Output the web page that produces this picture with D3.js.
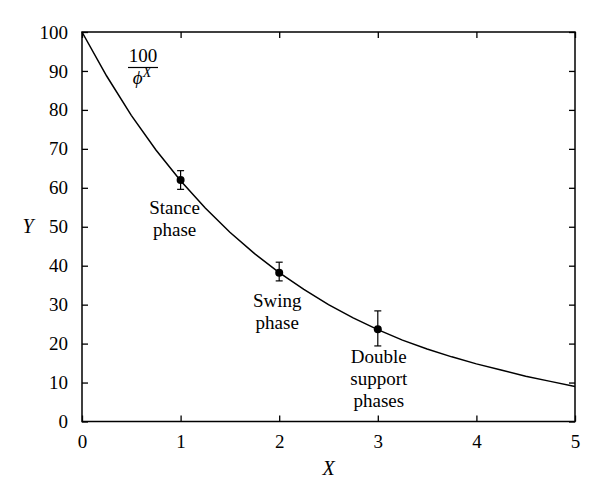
<!DOCTYPE html>
<meta charset="utf-8">
<script src="https://d3js.org/d3.v7.min.js"></script>
<style>
body { margin: 0; background: #fff; }
text { font-family: "Liberation Serif", "DejaVu Serif", serif; fill: #000; }
</style>
<div id="chart"></div>
<script>
// curve values (x, y)
var curveX = [0, 0.25, 0.5, 0.75, 1, 1.25, 1.5, 1.75, 2, 2.25, 2.5, 2.75, 3, 3.25, 3.5, 3.75, 4, 4.25, 4.5, 4.75, 5];
var curveY = [100, 88.7, 78.6, 69.7, 61.8, 54.8, 48.6, 43.1, 38.2, 33.9, 30.0, 26.6, 23.6, 20.9, 18.6, 16.6, 14.8, 13.2, 11.6, 10.3, 9.0];

// measured phases
var phaseX = [1, 2, 3];
var phaseY = [62, 38.2, 23.7];
var errLow = [59.6, 36.1, 19.4];
var errHigh = [64.4, 40.9, 28.4];
var phaseLabels = [["Stance", "phase"], ["Swing", "phase"], ["Double", "support", "phases"]];

var xTicks = [0, 1, 2, 3, 4, 5];
var yTicks = [0, 10, 20, 30, 40, 50, 60, 70, 80, 90, 100];

var width = 600, height = 502;
var margin = {top: 32, right: 25, bottom: 80.5, left: 82};

var svg = d3.select("#chart").append("svg")
  .attr("width", width)
  .attr("height", height);

var x = d3.scaleLinear().domain([0, 5]).range([margin.left, width - margin.right]);
var y = d3.scaleLinear().domain([0, 100]).range([height - margin.bottom, margin.top]);

// frame
svg.append("rect")
  .attr("x", x(0)).attr("y", y(100))
  .attr("width", x(5) - x(0)).attr("height", y(0) - y(100))
  .attr("fill", "none").attr("stroke", "#000").attr("stroke-width", 1.5);

// inward ticks on all four sides
function frameAxis(axis, tx, ty) {
  var g = svg.append("g").attr("transform", "translate(" + tx + "," + ty + ")").call(axis);
  g.select(".domain").remove();
  g.selectAll(".tick line").attr("stroke", "#000").attr("stroke-width", 1.3);
  g.selectAll("text").style("font-size", "19px").attr("font-family", null);
  return g;
}
frameAxis(d3.axisBottom(x).tickValues(xTicks).tickSize(-6).tickPadding(13).tickFormat(d3.format("d")), 0, y(0));
frameAxis(d3.axisTop(x).tickValues(xTicks).tickSize(-6).tickFormat(""), 0, y(100));
frameAxis(d3.axisLeft(y).tickValues(yTicks).tickSize(-6).tickPadding(14).tickFormat(d3.format("d")), x(0), 0);
frameAxis(d3.axisRight(y).tickValues(yTicks).tickSize(-6).tickFormat(""), x(5), 0);

// curve
var pts = curveX.map(function(d, i) { return [d, curveY[i]]; });
svg.append("path")
  .datum(pts)
  .attr("fill", "none")
  .attr("stroke", "#000")
  .attr("stroke-width", 1.5)
  .attr("d", d3.line().x(function(d) { return x(d[0]); }).y(function(d) { return y(d[1]); }));

// error bars + points
var labelShift = [-6, -2, 1];
phaseX.forEach(function(px, i) {
  var g = svg.append("g");
  g.append("line").attr("x1", x(px)).attr("x2", x(px))
    .attr("y1", y(errLow[i])).attr("y2", y(errHigh[i]))
    .attr("stroke", "#000").attr("stroke-width", 1.2);
  [errLow[i], errHigh[i]].forEach(function(v) {
    g.append("line").attr("x1", x(px) - 3.5).attr("x2", x(px) + 3.5)
      .attr("y1", y(v)).attr("y2", y(v))
      .attr("stroke", "#000").attr("stroke-width", 1.2);
  });
  g.append("circle").attr("cx", x(px)).attr("cy", y(phaseY[i])).attr("r", 4).attr("fill", "#000");

  var t = svg.append("text")
    .attr("text-anchor", "middle")
    .style("font-size", "19px")
    .attr("y", y(phaseY[i]) + 34);
  phaseLabels[i].forEach(function(s, j) {
    t.append("tspan").attr("x", x(px) + labelShift[i]).attr("dy", j == 0 ? 0 : 22).text(s);
  });
});

// formula label 100 / phi^X
var fx = 143;
svg.append("text").attr("x", fx).attr("y", 62).attr("text-anchor", "middle").style("font-size", "19px").text("100");
svg.append("line").attr("x1", fx - 15).attr("x2", fx + 15).attr("y1", 67.5).attr("y2", 67.5).attr("stroke", "#000").attr("stroke-width", 1.2);
var den = svg.append("text").attr("x", fx - 1).attr("y", 84).attr("text-anchor", "middle").style("font-size", "19px");
den.append("tspan").style("font-style", "italic").text("\u03d5");
den.append("tspan").style("font-style", "italic").style("font-size", "14px").attr("dy", -7).text("X");

// axis titles
svg.append("text").attr("x", x(2.5)).attr("y", 475).attr("text-anchor", "middle")
  .style("font-size", "20px").style("font-style", "italic").text("X");
svg.append("text").attr("x", 28).attr("y", 233).attr("text-anchor", "middle")
  .style("font-size", "20px").style("font-style", "italic").text("Y");
</script>
